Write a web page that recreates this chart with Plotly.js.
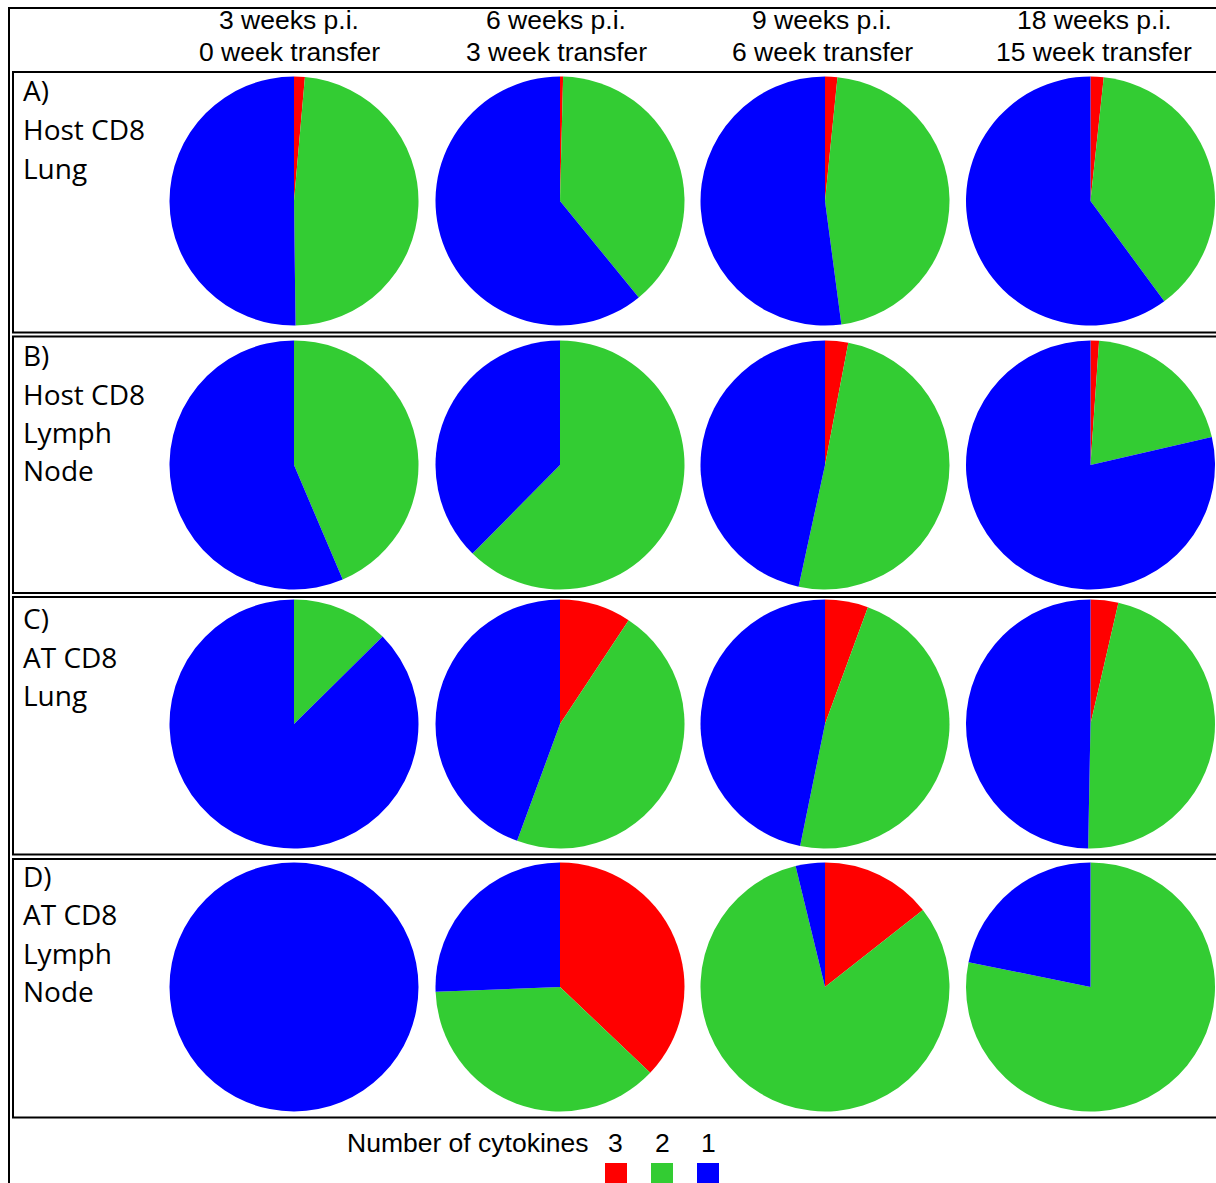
<!DOCTYPE html>
<html>
<head>
<meta charset="utf-8">
<script src="https://cdn.plot.ly/plotly-3.0.1.min.js"></script>
<style>html,body{margin:0;padding:0;background:#fff;}#chart{width:1216px;height:1183px;}</style>
</head>
<body>
<div id="chart"></div>
<script>
// ---- data ----
const categories = ["3", "2", "1"];            // number of cytokines
const sliceColors = ["#ff0000", "#33cc33", "#0000ff"];
const colLine1 = ["3 weeks p.i.", "6 weeks p.i.", "9 weeks p.i.", "18 weeks p.i."];
const colLine2 = ["0 week transfer", "3 week transfer", "6 week transfer", "15 week transfer"];
const rowLabels = [
  ["A)", "Host CD8", "Lung"],
  ["B)", "Host CD8", "Lymph", "Node"],
  ["C)", "AT CD8", "Lung"],
  ["D)", "AT CD8", "Lymph", "Node"]
];
// each entry: [3 cytokines, 2 cytokines, 1 cytokine] (% of responding cells)
const hostCD8Lung  = [[1.4, 48.4, 50.2], [0.4, 38.7, 60.9], [1.6, 46.3, 52.1], [1.7, 38.2, 60.1]];
const hostCD8Lymph = [[0, 43.6, 56.4], [0, 62.4, 37.6], [3.0, 50.4, 46.6], [1.1, 20.3, 78.6]];
const atCD8Lung    = [[0, 12.6, 87.4], [9.3, 46.3, 44.4], [5.6, 47.6, 46.8], [3.6, 46.7, 49.7]];
const atCD8Lymph   = [[0, 0, 100], [37.1, 37.3, 25.6], [14.4, 81.8, 3.8], [0, 78.2, 21.8]];
const legendTitle = "Number of cytokines";

// ---- layout geometry (pixels) ----
const W = 1216, H = 1183;
const px = x => x / W;
const py = y => 1 - y / H;
const colCx = [294, 560, 825, 1090.5];
const rowCy = [201, 465, 724, 987];
const rX = 124.5, rY = 127;
const rowBoxes = [[72, 332.5], [336.5, 593], [597, 854.5], [859, 1117.5]];
const labelY = [[91, 130, 169], [356, 395, 433, 471], [619, 658, 696], [877, 915, 954, 992]];

const rows = [hostCD8Lung, hostCD8Lymph, atCD8Lung, atCD8Lymph];
const traces = [];
rows.forEach((row, ri) => {
  row.forEach((vals, ci) => {
    traces.push({
      type: "pie",
      labels: categories,
      values: vals,
      sort: false,
      direction: "clockwise",
      rotation: 0,
      textinfo: "none",
      hoverinfo: "label+value",
      showlegend: false,
      marker: {colors: sliceColors, line: {width: 0}},
      domain: {
        x: [px(colCx[ci] - rX), px(colCx[ci] + rX)],
        y: [py(rowCy[ri] + rY), py(rowCy[ri] - rY)]
      }
    });
  });
});

const shapes = [];
// outer frame
shapes.push({type: "rect", xref: "paper", yref: "paper", x0: px(9), x1: px(1240), y0: py(8), y1: py(1210),
  line: {color: "#000", width: 2}});
rowBoxes.forEach(b => {
  shapes.push({type: "rect", xref: "paper", yref: "paper", x0: px(13), x1: px(1240), y0: py(b[0]), y1: py(b[1]),
    line: {color: "#000", width: 2}});
});
// legend swatches
const swX = [605, 651, 697];
sliceColors.forEach((c, i) => {
  shapes.push({type: "rect", xref: "paper", yref: "paper", x0: px(swX[i]), x1: px(swX[i] + 22),
    y0: py(1163), y1: py(1190), fillcolor: c, line: {width: 0}});
});

const annotations = [];
const headFont = {family: "Liberation Sans, Arial, sans-serif", size: 26.5, color: "#000"};
const colTextX = [289, 556, 822, 1094];
colLine1.forEach((t, i) => {
  annotations.push({xref: "paper", yref: "paper", x: px(colTextX[i]), y: py(20), text: t, showarrow: false,
    xanchor: "center", yanchor: "middle", font: headFont});
  annotations.push({xref: "paper", yref: "paper", x: px(colTextX[i]), y: py(52), text: colLine2[i], showarrow: false,
    xanchor: "center", yanchor: "middle", font: headFont});
});
const labFont = {family: "Open Sans, sans-serif", size: 28, color: "#000"};
rowLabels.forEach((lines, ri) => {
  lines.forEach((t, li) => {
    annotations.push({xref: "paper", yref: "paper", x: px(21), y: py(labelY[ri][li] - 1), text: t, showarrow: false,
      xanchor: "left", yanchor: "middle", font: labFont});
  });
});
const legFont = {family: "Liberation Sans, Arial, sans-serif", size: 26.5, color: "#000"};
annotations.push({xref: "paper", yref: "paper", x: px(345), y: py(1143), text: legendTitle, showarrow: false,
  xanchor: "left", yanchor: "middle", font: legFont});
const legNumX = [615, 662, 708];
categories.forEach((c, i) => {
  annotations.push({xref: "paper", yref: "paper", x: px(legNumX[i]), y: py(1143), text: c, showarrow: false,
    xanchor: "center", yanchor: "middle", font: legFont});
});

const layout = {
  width: W, height: H,
  margin: {l: 0, r: 0, t: 0, b: 0, pad: 0},
  paper_bgcolor: "#fff", plot_bgcolor: "#fff",
  showlegend: false,
  shapes: shapes,
  annotations: annotations
};
Plotly.newPlot("chart", traces, layout, {displayModeBar: false, staticPlot: true});
</script>
</body>
</html>
